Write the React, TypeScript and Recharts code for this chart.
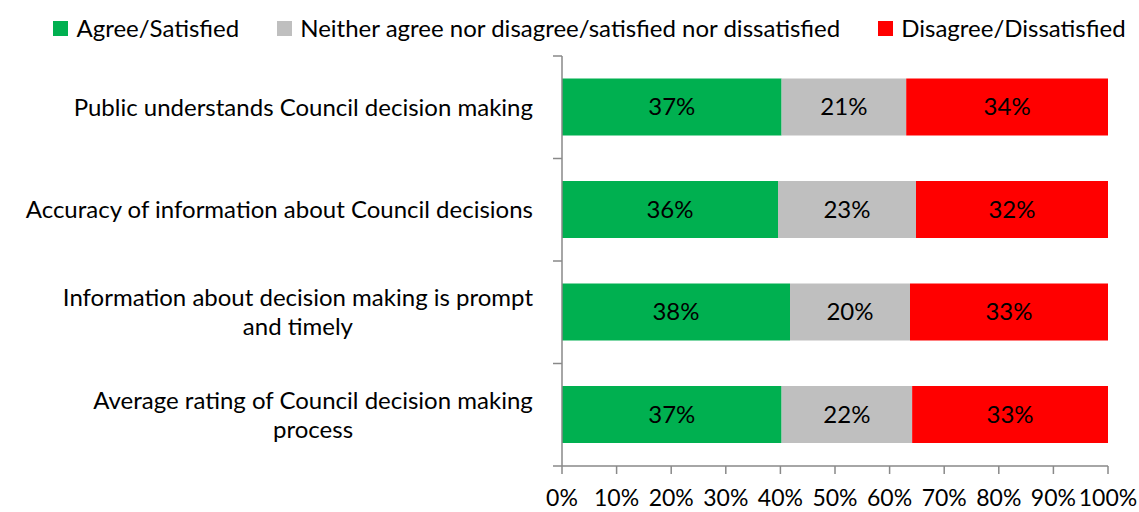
import { BarChart, Bar, XAxis, YAxis, LabelList } from 'recharts';

const CATEGORIES = [
  'Public understands Council decision making',
  'Accuracy of information about Council decisions',
  'Information about decision making is prompt\nand timely',
  'Average rating of Council decision making\nprocess',
];
const AGREE = [37, 36, 38, 37];
const NEITHER = [21, 23, 20, 22];
const DISAGREE = [34, 32, 33, 33];
const X_TICKS = [0, 0.1, 0.2, 0.3, 0.4, 0.5, 0.6, 0.7, 0.8, 0.9, 1];

const SERIES = [
  { key: 'agree', name: 'Agree/Satisfied', color: '#00B050', values: AGREE },
  { key: 'neither', name: 'Neither agree nor disagree/satisfied nor dissatisfied', color: '#BFBFBF', values: NEITHER },
  { key: 'disagree', name: 'Disagree/Dissatisfied', color: '#FF0000', values: DISAGREE },
];

const FONT = 'Lato, "Open Sans", sans-serif';
const FONT_SIZE = 24;
const AXIS_COLOR = '#898989';

const W = 1139;
const H = 512;
const PLOT_LEFT = 562;
const PLOT_TOP = 56;
const PLOT_BOTTOM = 466;
const BAND = (PLOT_BOTTOM - PLOT_TOP) / CATEGORIES.length;

const data = CATEGORIES.map((name, i) => ({
  name,
  agree: AGREE[i],
  neither: NEITHER[i],
  disagree: DISAGREE[i],
}));

let ctx: CanvasRenderingContext2D | null = null;
function measure(text: string) {
  if (!ctx) ctx = document.createElement('canvas').getContext('2d');
  if (!ctx) return text.length * 11;
  ctx.font = `${FONT_SIZE}px ${FONT}`;
  return ctx.measureText(text).width;
}

function CategoryTick(props: any) {
  const { y, payload, index } = props;
  const lines = String(payload.value).split('\n');
  const right = PLOT_LEFT - 29;
  const maxW = Math.max(...lines.map(measure));
  const lineH = 29;
  const top = y - ((lines.length - 1) * lineH) / 2;
  const yTop = y - BAND / 2;
  return (
    <g>
      <line x1={PLOT_LEFT - 9} x2={PLOT_LEFT} y1={yTop} y2={yTop} stroke={AXIS_COLOR} strokeWidth={1.5} />
      {index === CATEGORIES.length - 1 && (
        <line x1={PLOT_LEFT - 9} x2={PLOT_LEFT} y1={y + BAND / 2} y2={y + BAND / 2} stroke={AXIS_COLOR} strokeWidth={1.5} />
      )}
      {lines.map((line, i) => (
        <text
          key={i}
          x={lines.length > 1 ? right - maxW / 2 : right}
          y={top + i * lineH}
          dy="0.35em"
          textAnchor={lines.length > 1 ? 'middle' : 'end'}
          fill="#000"
          fontSize={FONT_SIZE}
          fontFamily={FONT}
        >
          {line}
        </text>
      ))}
    </g>
  );
}

const makeLabel = (values: number[]) => (props: any) => {
  const { x, y, width, height, index } = props;
  return (
    <text
      x={x + width / 2}
      y={y + height / 2}
      dy="0.35em"
      textAnchor="middle"
      fill="#000"
      fontSize={FONT_SIZE}
      fontFamily={FONT}
    >
      {values[index]}%
    </text>
  );
};

export default function App() {
  return (
    <div style={{ position: 'absolute', left: 0, top: 0, width: W, height: H, background: '#fff' }}>
      <div
        style={{
          position: 'absolute',
          top: 14,
          left: 0,
          width: W,
          display: 'flex',
          justifyContent: 'center',
          gap: 38,
          fontFamily: FONT,
          fontSize: FONT_SIZE,
          color: '#000',
          paddingLeft: 40,
          boxSizing: 'border-box',
          whiteSpace: 'nowrap',
        }}
      >
        {SERIES.map((s) => (
          <div key={s.key} style={{ display: 'flex', alignItems: 'center', lineHeight: '28px' }}>
            <span style={{ display: 'inline-block', width: 15, height: 15, background: s.color, marginRight: 8 }} />
            <span>{s.name}</span>
          </div>
        ))}
      </div>
      <BarChart
        width={W}
        height={H}
        data={data}
        layout="vertical"
        stackOffset="expand"
        barCategoryGap="22%"
        margin={{ top: PLOT_TOP, right: W - 1108, left: 0, bottom: 0 }}
      >
        <XAxis
          type="number"
          domain={[0, 1]}
          ticks={X_TICKS}
          interval={0}
          height={H - PLOT_BOTTOM}
          tickFormatter={(v) => `${Math.round(v * 100)}%`}
          axisLine={{ stroke: AXIS_COLOR, strokeWidth: 1.5 }}
          tickLine={{ stroke: AXIS_COLOR, strokeWidth: 1.5 }}
          tickSize={8}
          tickMargin={16}
          tick={{ fill: '#000', fontSize: 23, fontFamily: FONT }}
        />
        <YAxis
          type="category"
          dataKey="name"
          width={PLOT_LEFT}
          interval={0}
          axisLine={{ stroke: AXIS_COLOR, strokeWidth: 1.5 }}
          tickLine={false}
          tick={<CategoryTick />}
        />
        {SERIES.map((s) => (
          <Bar key={s.key} dataKey={s.key} name={s.name} stackId="a" fill={s.color} isAnimationActive={false}>
            <LabelList content={makeLabel(s.values)} />
          </Bar>
        ))}
      </BarChart>
    </div>
  );
}
